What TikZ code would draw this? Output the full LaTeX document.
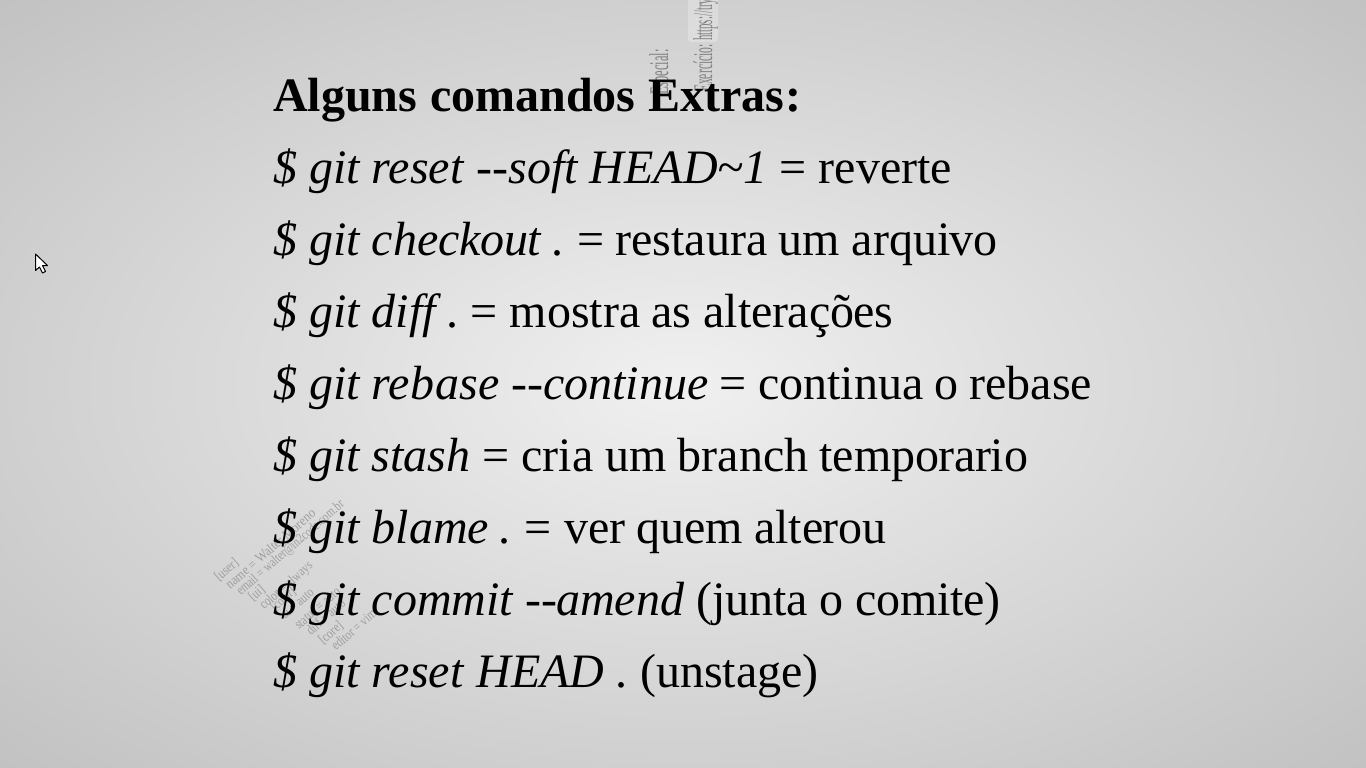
\documentclass[tikz,border=0pt]{standalone}
\usepackage{fontspec}
\setmainfont{Liberation Serif}
\definecolor{bgA}{HTML}{F0F0F0}
\definecolor{bgB}{HTML}{C6C6C6}
\definecolor{bgC}{HTML}{B6B6B6}
\definecolor{bgD}{HTML}{B0B0B0}
\pgfdeclareradialshading{bgshade}{\pgfpointorigin}{color(0bp)=(bgA);color(32bp)=(bgB);color(45bp)=(bgC);color(70.8bp)=(bgD)}
\newcommand{\cmdit}[1]{{\itshape #1}}
\newcommand{\kk}[1]{\kern#1pt\relax}
\tikzset{
  x=1pt,y=-1pt,
  cmdline/.style={anchor=base west,inner sep=0pt,font=\fontsize{48}{48}\selectfont,text=black},
  faintup/.style={anchor=base west,inner sep=0pt,rotate=90,text=black!50,font=\fontsize{27}{27}\selectfont},
  faintdiag/.style={anchor=base west,inner sep=0pt,rotate=41,text=black!38,font=\fontsize{14}{14}\selectfont}
}
\begin{document}
\begin{tikzpicture}
\useasboundingbox (0,0) rectangle (1366,768);
\shade[shading=bgshade] (0,0) rectangle (1366,768);
% faint slide fragments
\fill[white,opacity=.25,rounded corners=3pt] (688,-4) rectangle (718,42);
\node[faintup,xscale=.46] (fa) at (668,95) {Especial:};
\node[faintup,xscale=.43] (fb) at (712,92) {Exercício:};
\node[faintup,xscale=.40] (fc) at (712,41) {https://try.};
\node[faintdiag,xscale=.82] (d1) at (219,582) {[user]};
\node[faintdiag,xscale=.88] (d2) at (230,590) {name = Walter Moreno};
\node[faintdiag,xscale=.76] (d3) at (241,596) {email = walter@in2code.com.br};
\node[faintdiag,xscale=.82] (d4) at (253,602) {[ui]};
\node[faintdiag,xscale=.79] (d5) at (264,610) {color = always};
\node[faintdiag,xscale=.74] (d6) at (275,612) {[color]};
\node[faintdiag,xscale=.79] (d7) at (285,620) {ui = auto};
\node[faintdiag,xscale=.79] (d8) at (299,630) {status = auto};
\node[faintdiag,xscale=.79] (d9) at (311,636) {diff = auto};
\node[faintdiag,xscale=.82] (d10) at (323,645) {[core]};
\node[faintdiag,xscale=.79] (d11) at (336,651) {editor = vim};
% main text
\node[cmdline] (l0) at (273,111) {\textbf{Alguns\kk{1} comandos\kk{1} Extras\kk{.5}:}};
\node[cmdline] (l1) at (273,183) {\cmdit{\$ git reset}\kk{1} -{}-\cmdit{soft HEAD\textasciitilde 1} = revert\kk{-.5}e};
\node[cmdline] (l2) at (273,255) {\cmdit{\$ git check\kk{-1}ou\kk{-1}t}\kk{-1} .\kk{-2} =\kk{-1} restaura\kk{-1} um arqui\kk{-1}vo};
\node[cmdline] (l3) at (273,327) {\cmdit{\$ git diff}\kk{-1} .\kk{-4} =\kk{0} mostra\kk{-1} as alter\kk{-1}açõ\kk{-1}es};
\node[cmdline] (l4) at (273,399) {\cmdit{\$ git reb\kk{1}as\kk{1}e}\kk{-1} -{}-\cmdit{continue}\kk{-1} = continua\kk{-1} o\kk{-1} rebase};
\node[cmdline] (l5) at (273,471) {\cmdit{\$ git stash} = cria um\kk{-1} branch\kk{-1} tempo\kk{-1}rar\kk{-1}io};
\node[cmdline] (l6) at (273,543) {\cmdit{\$ git blame}\kk{-3} .\kk{-2} =\kk{1} ver\kk{-1} quem\kk{-1} alte\kk{-1}rou};
\node[cmdline] (l7) at (273,615) {\cmdit{\$ git commit} -{}-\kk{-1}\cmdit{amend}\kk{0} (junta\kk{-1} o comi\kk{-1}te)};
\node[cmdline] (l8) at (273,687) {\cmdit{\$ git reset}\kk{1} \cmdit{HEAD}\kk{-1} .\kk{1} (unstage)};
% mouse pointer
\draw[fill=white,draw=black,line width=1pt,line join=round] (35.5,254) -- (35.5,270.5) -- (39.5,267) -- (42.5,273) -- (45.5,271.5) -- (42.5,265.5) -- (47.5,265.5) -- cycle;
\end{tikzpicture}
\end{document}
